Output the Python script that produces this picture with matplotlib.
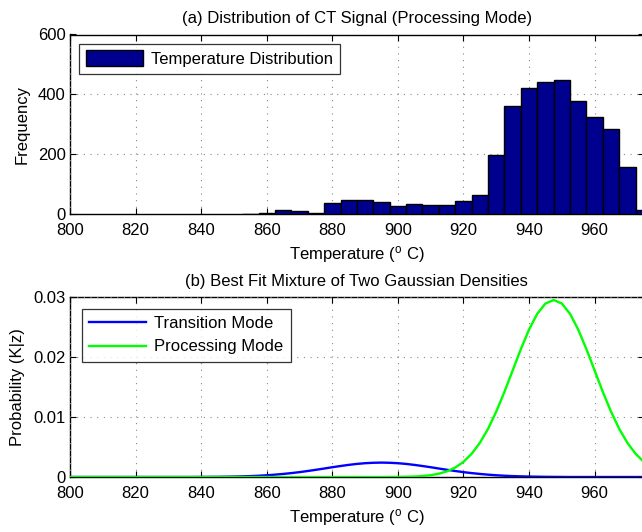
import numpy as np
import matplotlib
matplotlib.use("Agg")
import matplotlib.pyplot as plt

plt.rcParams['font.family'] = ['Liberation Sans', 'DejaVu Sans']
plt.rcParams['mathtext.fontset'] = 'custom'
plt.rcParams['mathtext.rm'] = 'Liberation Sans'
plt.rcParams['mathtext.it'] = 'Liberation Sans'

# ---- histogram data (bin centres, counts) ----
bin_centers = [855, 860, 865, 870, 875, 880, 885, 890, 895, 900, 905, 910, 915,
               920, 925, 930, 935, 940, 945, 950, 955, 960, 965, 970, 975]
counts = [1, 5, 14, 9, 4, 38, 46, 48, 41, 28, 35, 31, 31,
          44, 65, 197, 361, 422, 440, 449, 379, 324, 284, 157, 14]
bin_width = 5

# ---- mixture density curves ----
temps = [800.0, 802.5, 805.0, 807.5, 810.0, 812.5, 815.0, 817.5, 820.0, 822.5,
         825.0, 827.5, 830.0, 832.5, 835.0, 837.5, 840.0, 842.5, 845.0, 847.5,
         850.0, 852.5, 855.0, 857.5, 860.0, 862.5, 865.0, 867.5, 870.0, 872.5,
         875.0, 877.5, 880.0, 882.5, 885.0, 887.5, 890.0, 892.5, 895.0, 897.5,
         900.0, 902.5, 905.0, 907.5, 910.0, 912.5, 915.0, 917.5, 920.0, 922.5,
         925.0, 927.5, 930.0, 932.5, 935.0, 937.5, 940.0, 942.5, 945.0, 947.5,
         950.0, 952.5, 955.0, 957.5, 960.0, 962.5, 965.0, 967.5, 970.0, 972.5,
         975.0]
transition = [0, 0, 0, 0, 0, 0, 0, 0, 0, 0, 0, 0, 0, 0, 0, 0,
              0.00001, 0.00002, 0.00003, 0.00005, 0.00007, 0.00011, 0.00015,
              0.00021, 0.00029, 0.00039, 0.00051, 0.00065, 0.00081, 0.00100,
              0.00120, 0.00141, 0.00163, 0.00183, 0.00202, 0.00218, 0.00230,
              0.00237, 0.00240, 0.00237, 0.00230, 0.00218, 0.00202, 0.00183,
              0.00163, 0.00141, 0.00120, 0.00100, 0.00081, 0.00065, 0.00051,
              0.00039, 0.00029, 0.00021, 0.00015, 0.00011, 0.00007, 0.00005,
              0.00003, 0.00002, 0.00001,
              0, 0, 0, 0, 0, 0, 0, 0, 0, 0]
processing = [0] * 39 + [0.00001, 0.00002, 0.00004, 0.00008, 0.00016, 0.00030,
              0.00055, 0.00095, 0.00158, 0.00252, 0.00387, 0.00569, 0.00803,
              0.01090, 0.01419, 0.01775, 0.02131, 0.02457, 0.02720, 0.02891,
              0.02950, 0.02891, 0.02720, 0.02457, 0.02131, 0.01775, 0.01419,
              0.01090, 0.00803, 0.00569, 0.00387, 0.00252]

xticks = [800, 820, 840, 860, 880, 900, 920, 940, 960]
yticks_top = [0, 200, 400, 600]
yticks_bot = [0, 0.01, 0.02, 0.03]
ytick_labels_bot = ['0', '0.01', '0.02', '0.03']

FS = 12
W, H = 642, 532
fig = plt.figure(figsize=(W / 100, H / 100), dpi=100)

left = 70 / W
width = 573.8 / W
ax1 = fig.add_axes([left, 1 - 214 / H, width, (214 - 34.5) / H])
ax2 = fig.add_axes([left, 1 - 477 / H, width, (477 - 297) / H])

def style(ax):
    ax.tick_params(direction='in', top=True, right=True, length=4, width=0.8,
                   labelsize=FS)
    ax.tick_params(axis='x', pad=6.5)
    ax.tick_params(axis='y', pad=3)
    ax.grid(True, linestyle=(0, (1, 5)), color='#888888', linewidth=0.8)
    ax.set_axisbelow(False)
    for s in ax.spines.values():
        s.set_linewidth(1.0)
    ax.set_xlim(800, 975)
    ax.set_xticks(xticks)

ax1.bar(bin_centers, counts, width=bin_width, color=(0, 0, 0.5625),
        edgecolor='black', linewidth=1.0, label='Temperature Distribution',
        zorder=3)
style(ax1)
ax1.set_ylim(0, 600)
ax1.set_yticks(yticks_top)
ax1.set_title('(a) Distribution of CT Signal (Processing Mode)', fontsize=FS, pad=8)
ax1.set_xlabel(r'Temperature ($^{\mathrm{o}}$ C)', fontsize=FS, labelpad=4)
ax1.set_ylabel('Frequency', fontsize=FS, labelpad=6)
leg1 = ax1.legend(loc='upper left', fontsize=FS, frameon=True, fancybox=False,
                  edgecolor='black', borderaxespad=0.55, handlelength=3.4,
                  handleheight=1.1, handletextpad=0.5, borderpad=0.4)
leg1.get_frame().set_linewidth(0.9)

ax2.plot(temps, transition, color=(0, 0, 1), linewidth=1.7, label='Transition Mode', zorder=3)
ax2.plot(temps, processing, color=(0, 1, 0), linewidth=1.7, label='Processing Mode', zorder=3)
style(ax2)
ax2.set_ylim(0, 0.03)
ax2.set_yticks(yticks_bot)
ax2.set_yticklabels(ytick_labels_bot)
ax2.set_title('(b) Best Fit Mixture of Two Gaussian Densities', fontsize=FS, pad=8)
ax2.set_xlabel(r'Temperature ($^{\mathrm{o}}$ C)', fontsize=FS, labelpad=4)
ax2.set_ylabel('Probability (K|z)', fontsize=FS, labelpad=6)
leg2 = ax2.legend(loc='upper left', fontsize=FS, frameon=True, fancybox=False,
                  edgecolor='black', borderaxespad=0.7, handlelength=3.4,
                  handletextpad=0.5, borderpad=0.45, labelspacing=0.5)
leg2.get_frame().set_linewidth(0.9)

fig.savefig('out.png', dpi=100)
